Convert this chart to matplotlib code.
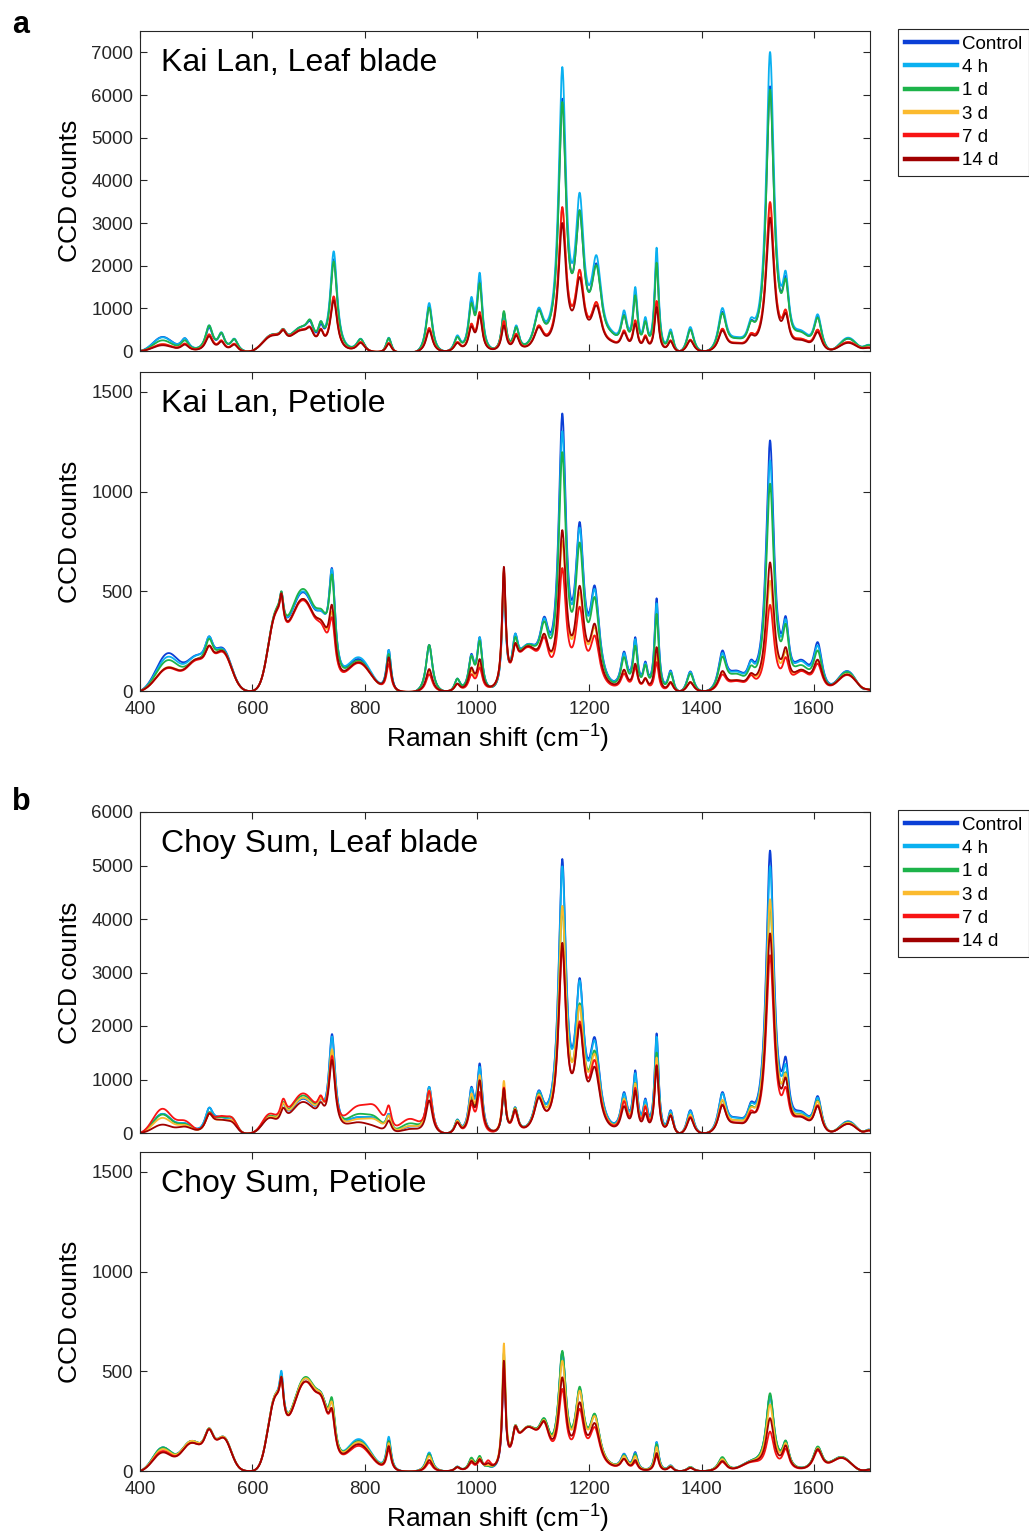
import numpy as np
import matplotlib
matplotlib.use('Agg')
import matplotlib.pyplot as plt
from matplotlib.lines import Line2D

plt.rcParams['font.family'] = ['Liberation Sans', 'DejaVu Sans']
plt.rcParams['mathtext.default'] = 'regular'

# ---------------- data ----------------
series_names = ['Control', '4 h', '1 d', '3 d', '7 d', '14 d']
series_colors = ['#0B3FD6', '#0AB0F0', '#1DB34A', '#FBBA2E', '#F81414', '#A00000']

# Raman shifts (cm-1) where the processed spectra touch zero
baseline_anchors = [400, 598, 942, 1360, 1402]

# ---- Kai Lan, Leaf blade: band centres, widths (cm-1), band type, heights read at centres
kl_leaf_centers = [440, 480, 523, 545, 568, 635, 655, 685, 703, 722, 745, 793, 843, 915, 965,
                   990, 1005, 1048, 1070, 1110, 1152, 1183, 1213, 1240, 1262, 1282, 1300, 1320,
                   1345, 1380, 1437, 1462, 1488, 1522, 1550, 1578, 1607, 1662, 1700]
kl_leaf_widths = [40, 18, 16, 14, 16, 40, 14, 40, 16, 12, 15, 18, 12, 14, 14,
                  12, 11, 10, 12, 20, 16, 18, 22, 24, 14, 10, 10, 9,
                  12, 16, 18, 30, 16, 17, 14, 30, 18, 40, 24]
kl_leaf_kinds = ['G', 'L', 'L', 'L', 'L', 'G', 'L', 'G', 'L', 'L', 'L', 'L', 'L', 'L', 'L',
                 'L', 'L', 'L', 'L', 'L', 'L', 'L', 'L', 'G', 'L', 'L', 'L', 'L',
                 'L', 'L', 'L', 'G', 'L', 'L', 'L', 'G', 'L', 'G', 'G']
kl_leaf_control = [330, 300, 560, 420, 280, 380, 510, 560, 700, 640, 2150, 280, 300, 1060, 340,
                   1200, 1700, 900, 580, 980, 5914, 3300, 2050, 450, 860, 1350, 720, 2164,
                   460, 510, 920, 310, 720, 6203, 1750, 460, 800, 290, 130]
kl_leaf_4h = [320, 300, 600, 440, 290, 390, 520, 560, 730, 700, 2336, 289, 312, 1125, 367,
              1265, 1836, 875, 601, 1016, 6656, 3711, 2242, 484, 953, 1500, 797, 2422,
              508, 562, 1008, 330, 781, 7008, 1875, 484, 860, 312, 140]
kl_leaf_1d = [250, 250, 600, 430, 280, 390, 520, 560, 735, 700, 2100, 280, 300, 1016, 328,
              1125, 1594, 937, 562, 953, 5836, 3297, 2008, 445, 836, 1305, 703, 2070,
              445, 500, 890, 300, 703, 6125, 1695, 445, 781, 290, 130]
kl_leaf_3d = [160, 170, 390, 250, 170, 370, 500, 490, 560, 520, 1270, 210, 190, 540, 210,
              640, 914, 703, 406, 600, 3350, 1900, 1140, 250, 480, 720, 370, 1170,
              250, 265, 520, 195, 420, 3480, 970, 290, 500, 210, 80]
kl_leaf_7d = [160, 175, 390, 250, 170, 380, 510, 500, 570, 525, 1281, 211, 188, 539, 211,
              640, 914, 703, 406, 601, 3375, 1906, 1148, 250, 484, 720, 367, 1172,
              250, 265, 523, 195, 420, 3492, 969, 289, 500, 211, 80]
kl_leaf_14d = [135, 150, 345, 225, 150, 360, 490, 480, 550, 510, 1187, 190, 170, 484, 190,
               580, 836, 600, 367, 560, 3000, 1734, 1070, 230, 440, 640, 330, 1031,
               230, 245, 480, 180, 380, 3125, 890, 260, 445, 190, 70]

# ---- Kai Lan, Petiole
kl_pet_centers = [450, 500, 523, 548, 640, 652, 690, 725, 742, 790, 843, 915, 965, 990, 1005,
                  1048, 1068, 1090, 1120, 1152, 1183, 1210, 1262, 1282, 1300, 1320, 1345,
                  1380, 1437, 1462, 1488, 1522, 1550, 1578, 1607, 1660, 1700]
kl_pet_widths = [50, 40, 20, 36, 30, 8, 64, 20, 14, 50, 10, 14, 12, 12, 11,
                 8, 12, 40, 20, 16, 18, 20, 14, 10, 10, 9, 12,
                 16, 18, 30, 16, 17, 14, 30, 20, 40, 20]
kl_pet_kinds = ['G', 'G', 'L', 'G', 'G', 'L', 'G', 'G', 'L', 'G', 'L', 'L', 'L', 'L', 'L',
                'L', 'L', 'G', 'L', 'L', 'L', 'L', 'L', 'L', 'L', 'L', 'L',
                'L', 'L', 'G', 'L', 'L', 'L', 'G', 'L', 'G', 'G']
kl_pet_control = [190, 180, 274, 215, 389, 498, 495, 397, 616, 160, 206, 231, 62, 186, 270,
                  540, 287, 235, 373, 1392, 848, 528, 198, 270, 148, 465, 103,
                  98, 203, 103, 157, 1257, 375, 157, 245, 100, 8]
kl_pet_4h = [172, 178, 274, 210, 389, 495, 500, 397, 610, 169, 206, 228, 62, 180, 270,
             560, 287, 235, 365, 1303, 820, 510, 190, 260, 140, 440, 98,
             95, 190, 98, 150, 1157, 360, 150, 228, 98, 8]
kl_pet_1d = [155, 160, 262, 205, 395, 500, 512, 405, 583, 152, 186, 231, 62, 177, 253,
             580, 270, 232, 350, 1198, 745, 470, 170, 228, 132, 387, 90,
             87, 173, 87, 128, 1040, 337, 130, 203, 95, 8]
kl_pet_3d = [120, 160, 228, 200, 385, 488, 462, 346, 397, 144, 150, 100, 37, 105, 135,
             610, 240, 225, 287, 753, 495, 320, 100, 125, 65, 180, 45,
             45, 95, 55, 87, 553, 200, 107, 150, 85, 6]
kl_pet_7d = [115, 155, 225, 195, 380, 480, 455, 329, 368, 140, 135, 84, 35, 84, 118,
             600, 235, 220, 270, 617, 423, 278, 87, 120, 62, 145, 40,
             42, 83, 50, 80, 432, 170, 100, 137, 80, 5]
kl_pet_14d = [118, 160, 228, 200, 385, 490, 462, 346, 431, 144, 169, 110, 37, 118, 160,
              623, 240, 225, 287, 807, 528, 337, 107, 137, 65, 220, 45,
              45, 100, 55, 90, 645, 220, 107, 157, 83, 6]

# ---- Choy Sum, Leaf blade
cs_leaf_centers = [440, 480, 523, 545, 565, 630, 655, 690, 722, 742, 790, 820, 843, 880, 915,
                   965, 990, 1005, 1048, 1068, 1110, 1152, 1183, 1210, 1262, 1282, 1300, 1320,
                   1345, 1380, 1437, 1462, 1488, 1522, 1550, 1578, 1607, 1662, 1700]
cs_leaf_widths = [40, 30, 18, 30, 20, 30, 14, 50, 14, 14, 50, 30, 12, 40, 14,
                  12, 12, 11, 8, 12, 20, 16, 18, 22, 14, 10, 10, 9,
                  12, 16, 18, 30, 16, 17, 14, 30, 18, 40, 20]
cs_leaf_kinds = ['G', 'G', 'L', 'G', 'G', 'G', 'L', 'G', 'L', 'L', 'G', 'G', 'L', 'G', 'L',
                 'L', 'L', 'L', 'L', 'L', 'L', 'L', 'L', 'L', 'L', 'L', 'L', 'L',
                 'L', 'L', 'L', 'G', 'L', 'L', 'L', 'G', 'L', 'G', 'G']
cs_leaf_control = [358, 182, 472, 300, 230, 296, 547, 640, 641, 1849, 296, 264, 358, 120, 862,
                   252, 862, 1302, 800, 483, 796, 5122, 2897, 1787, 765, 1172, 646, 1862,
                   426, 426, 765, 295, 583, 5279, 1423, 408, 690, 219, 60]
cs_leaf_4h = [358, 185, 472, 300, 230, 300, 560, 650, 650, 1805, 300, 270, 358, 130, 862,
              250, 840, 1239, 820, 480, 780, 4985, 2853, 1724, 740, 1120, 620, 1800,
              410, 410, 740, 285, 560, 4985, 1285, 390, 660, 210, 60]
cs_leaf_1d = [346, 170, 390, 300, 280, 320, 579, 700, 680, 1540, 358, 300, 327, 180, 767,
              240, 673, 1000, 780, 470, 740, 4230, 2426, 1536, 646, 940, 520, 1505,
              360, 345, 608, 240, 502, 4280, 1129, 350, 608, 200, 55]
cs_leaf_3d = [283, 150, 358, 250, 230, 300, 560, 660, 660, 1566, 264, 250, 330, 130, 800,
              230, 736, 1082, 975, 460, 720, 4245, 2383, 1474, 640, 930, 520, 1411,
              350, 340, 620, 240, 480, 4370, 1110, 340, 590, 190, 50]
cs_leaf_7d = [453, 233, 371, 320, 280, 358, 641, 740, 704, 1440, 516, 497, 516, 264, 786,
              201, 547, 767, 850, 408, 680, 3450, 2088, 1361, 596, 846, 502, 1273,
              330, 300, 533, 200, 420, 3323, 859, 313, 520, 169, 40]
cs_leaf_14d = [157, 120, 358, 250, 200, 280, 472, 580, 579, 1365, 201, 120, 233, 75, 610,
               200, 610, 987, 830, 440, 658, 3555, 2025, 1235, 502, 796, 376, 1254,
               332, 282, 520, 188, 376, 3731, 1035, 300, 502, 170, 45]

# ---- Choy Sum, Petiole
cs_pet_centers = [440, 490, 523, 550, 640, 652, 695, 725, 742, 790, 843, 915, 965, 990, 1005,
                  1020, 1048, 1068, 1090, 1120, 1152, 1183, 1210, 1262, 1282, 1320, 1345,
                  1380, 1437, 1488, 1522, 1550, 1607, 1650, 1700]
cs_pet_widths = [40, 40, 24, 30, 30, 8, 60, 20, 14, 50, 10, 14, 12, 12, 11,
                 12, 7, 12, 40, 24, 16, 18, 22, 14, 10, 9, 12,
                 16, 18, 40, 17, 14, 20, 40, 20]
cs_pet_kinds = ['G', 'G', 'L', 'G', 'G', 'L', 'G', 'G', 'L', 'G', 'L', 'L', 'L', 'L', 'L',
                'L', 'L', 'L', 'G', 'L', 'L', 'L', 'L', 'L', 'L', 'L', 'L',
                'L', 'L', 'G', 'L', 'L', 'L', 'G', 'G']
cs_pet_control = [118, 150, 214, 170, 379, 490, 465, 379, 350, 150, 160, 90, 22, 60, 70,
                  25, 520, 228, 223, 262, 595, 410, 280, 87, 95, 145, 28,
                  20, 65, 53, 378, 150, 120, 70, 8]
cs_pet_4h = [118, 150, 214, 170, 379, 502, 468, 379, 355, 160, 172, 93, 22, 62, 70,
             25, 560, 228, 223, 262, 595, 415, 285, 85, 90, 145, 28,
             20, 65, 53, 378, 150, 120, 70, 8]
cs_pet_1d = [118, 150, 214, 170, 379, 472, 472, 379, 367, 150, 150, 85, 22, 67, 76,
             25, 595, 228, 223, 265, 603, 423, 287, 80, 85, 135, 26,
             20, 70, 53, 390, 153, 123, 70, 8]
cs_pet_3d = [110, 150, 214, 170, 379, 472, 465, 375, 345, 145, 140, 75, 20, 55, 65,
             30, 640, 228, 223, 255, 553, 403, 275, 75, 75, 120, 24,
             18, 60, 50, 333, 140, 115, 68, 7]
cs_pet_7d = [100, 140, 210, 165, 370, 465, 448, 362, 303, 126, 109, 42, 18, 42, 51,
             54, 523, 217, 220, 245, 412, 312, 220, 60, 45, 78, 20,
             15, 45, 45, 198, 112, 103, 65, 6]
cs_pet_14d = [93, 140, 210, 165, 370, 472, 450, 365, 312, 135, 125, 55, 20, 50, 60,
              40, 553, 225, 220, 250, 470, 345, 240, 62, 55, 90, 22,
              16, 50, 48, 265, 128, 110, 66, 7]

x_ticks = [400, 600, 800, 1000, 1200, 1400, 1600]
panel_titles = ['Kai Lan, Leaf blade', 'Kai Lan, Petiole', 'Choy Sum, Leaf blade', 'Choy Sum, Petiole']
panel_ymax = [7500, 1600, 6000, 1600]
panel_yticks = [list(range(0, 7001, 1000)), [0, 500, 1000, 1500],
                list(range(0, 6001, 1000)), [0, 500, 1000, 1500]]


# ---------------- model ----------------
def band_shape(x, c, w, kind):
    x = np.asarray(x, float)
    if kind == 'L':
        return 1.0 / (1.0 + ((x - c) / (w / 2.0)) ** 2)
    return np.exp(-4.0 * np.log(2.0) * ((x - c) / w) ** 2)


def spectrum(x, centers, widths, kinds, heights):
    anchors = np.array(baseline_anchors, float)
    cpos = np.array(centers, float)
    bx, bc = [], []
    for cj, wj, kj in zip(centers, widths, kinds):
        a_vals = band_shape(anchors, cj, wj, kj)
        bx.append(band_shape(x, cj, wj, kj) - np.interp(x, anchors, a_vals))
        bc.append(band_shape(cpos, cj, wj, kj) - np.interp(cpos, anchors, a_vals))
    Bx = np.array(bx).T
    Bc = np.array(bc).T
    amps = np.linalg.solve(Bc, np.array(heights, float))
    return Bx @ amps


panels = [
    (kl_leaf_centers, kl_leaf_widths, kl_leaf_kinds,
     [kl_leaf_control, kl_leaf_4h, kl_leaf_1d, kl_leaf_3d, kl_leaf_7d, kl_leaf_14d]),
    (kl_pet_centers, kl_pet_widths, kl_pet_kinds,
     [kl_pet_control, kl_pet_4h, kl_pet_1d, kl_pet_3d, kl_pet_7d, kl_pet_14d]),
    (cs_leaf_centers, cs_leaf_widths, cs_leaf_kinds,
     [cs_leaf_control, cs_leaf_4h, cs_leaf_1d, cs_leaf_3d, cs_leaf_7d, cs_leaf_14d]),
    (cs_pet_centers, cs_pet_widths, cs_pet_kinds,
     [cs_pet_control, cs_pet_4h, cs_pet_1d, cs_pet_3d, cs_pet_7d, cs_pet_14d]),
]

# ---------------- figure ----------------
W, H = 1029, 1534
fig = plt.figure(figsize=(W / 100, H / 100), dpi=100)

rects = [(31, 351), (372, 691), (812, 1133), (1152, 1471)]
ax_left, ax_right = 140, 870
axis_color = '#262626'
xgrid = np.arange(400, 1700.01, 0.5)

for i, (top, bot) in enumerate(rects):
    ax = fig.add_axes([ax_left / W, 1 - bot / H, (ax_right - ax_left) / W, (bot - top) / H])
    centers, widths, kinds, heights = panels[i]
    for name, col, h in zip(series_names, series_colors, heights):
        y = spectrum(xgrid, centers, widths, kinds, h)
        ax.plot(xgrid, y, color=col, lw=1.3, label=name, solid_joinstyle='round')
    ax.set_xlim(400, 1700)
    ax.set_ylim(0, panel_ymax[i])
    ax.set_xticks(x_ticks)
    ax.set_yticks(panel_yticks[i])
    ax.tick_params(direction='in', top=True, right=True, length=5, width=0.8,
                   labelsize=13.5, colors=axis_color, pad=5)
    ax.tick_params(axis='x', pad=7)
    for sp in ax.spines.values():
        sp.set_color(axis_color)
        sp.set_linewidth(0.8)
    if i in (0, 2):
        ax.tick_params(axis='x', labelbottom=False)
    else:
        ax.set_xlabel('Raman shift (cm$^{-1}$)', fontsize=19, color='black')
        ax.xaxis.set_label_coords(0.49, -0.1)
    ax.set_ylabel('CCD counts', fontsize=19, color='black')
    ax.yaxis.set_label_coords(-0.079, 0.5)
    ax.text(0.029, 0.876, panel_titles[i], transform=ax.transAxes, fontsize=23,
            ha='left', va='baseline', color='black')

# legends
for top_px in (29, 810):
    handles = [Line2D([0], [0], color=c, lw=3.2) for c in series_colors]
    leg = fig.legend(handles, series_names, loc='upper left',
                     bbox_to_anchor=(898 / W, 1 - top_px / H), borderaxespad=0,
                     fontsize=13.5, handlelength=2.8, handletextpad=0.25,
                     borderpad=0.35, labelspacing=0.33, fancybox=False,
                     framealpha=1, edgecolor=axis_color)
    leg.get_frame().set_linewidth(0.8)

fig.text(12 / W, 1 - 33 / H, 'a', fontsize=22, fontweight='bold', va='baseline', ha='left')
fig.text(12 / W, 1 - 810 / H, 'b', fontsize=22, fontweight='bold', va='baseline', ha='left')

fig.savefig('out.png', dpi=100)
